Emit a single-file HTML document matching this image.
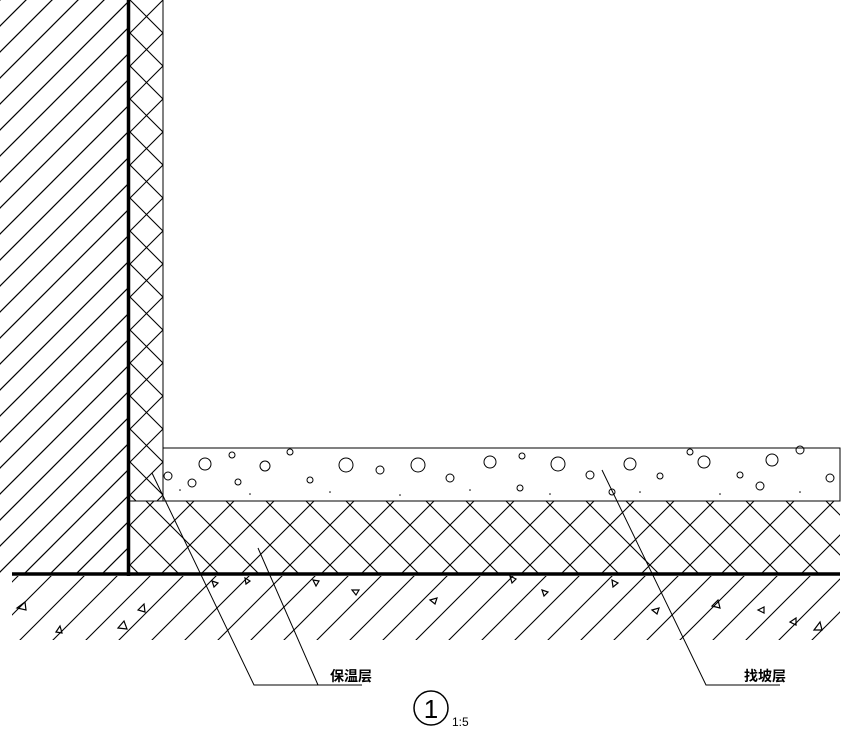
<!DOCTYPE html>
<html><head><meta charset="utf-8"><style>body{margin:0;background:#fff}</style></head><body>
<svg width="849" height="735" viewBox="0 0 849 735" xmlns="http://www.w3.org/2000/svg">
<defs>
<pattern id="wall" patternUnits="userSpaceOnUse" width="26" height="26">
<line x1="0" y1="26" x2="26" y2="0" stroke="#000" stroke-width="1.2"/>
<line x1="-2" y1="2" x2="2" y2="-2" stroke="#000" stroke-width="1.2"/>
<line x1="24" y1="28" x2="28" y2="24" stroke="#000" stroke-width="1.2"/>
</pattern>
<pattern id="xh" patternUnits="userSpaceOnUse" width="40" height="40" x="10" y="5">
<line x1="0" y1="0" x2="40" y2="40" stroke="#000" stroke-width="1.1"/>
<line x1="0" y1="40" x2="40" y2="0" stroke="#000" stroke-width="1.1"/>
</pattern>
<pattern id="xv" patternUnits="userSpaceOnUse" width="33" height="33" x="130" y="0">
<line x1="0" y1="0" x2="33" y2="33" stroke="#000" stroke-width="1.1"/>
<line x1="0" y1="33" x2="33" y2="0" stroke="#000" stroke-width="1.1"/>
</pattern>
<pattern id="gr" patternUnits="userSpaceOnUse" width="33" height="33">
<line x1="0" y1="33" x2="33" y2="0" stroke="#000" stroke-width="1.1"/>
<line x1="-2" y1="2" x2="2" y2="-2" stroke="#000" stroke-width="1.1"/>
<line x1="31" y1="35" x2="35" y2="31" stroke="#000" stroke-width="1.1"/>
</pattern>
</defs>
<rect x="0" y="0" width="128" height="574" fill="url(#wall)"/>
<rect x="130" y="0" width="33" height="501" fill="url(#xv)"/>
<rect x="130" y="501" width="710" height="72" fill="url(#xh)"/>
<rect x="163" y="448" width="677" height="53" fill="#fff" stroke="#000" stroke-width="1"/>
<line x1="130" y1="501" x2="840" y2="501" stroke="#000" stroke-width="1"/>
<line x1="163" y1="0" x2="163" y2="448" stroke="#000" stroke-width="1"/>
<rect x="12" y="576" width="828" height="64" fill="url(#gr)"/>
<g fill="none" stroke="#000" stroke-width="1">
<circle cx="205" cy="464" r="6"/><circle cx="232" cy="455" r="3"/><circle cx="265" cy="466" r="5"/><circle cx="290" cy="452" r="3"/><circle cx="346" cy="465" r="7"/><circle cx="380" cy="470" r="4"/><circle cx="418" cy="465" r="7"/><circle cx="450" cy="478" r="4"/><circle cx="490" cy="462" r="6"/><circle cx="522" cy="456" r="3"/><circle cx="558" cy="464" r="7"/><circle cx="590" cy="475" r="4"/><circle cx="630" cy="464" r="6"/><circle cx="660" cy="476" r="3"/><circle cx="704" cy="462" r="6"/><circle cx="740" cy="475" r="3"/><circle cx="772" cy="460" r="6"/><circle cx="800" cy="450" r="4"/><circle cx="830" cy="478" r="4"/><circle cx="168" cy="476" r="4"/><circle cx="192" cy="483" r="4"/><circle cx="238" cy="482" r="3"/><circle cx="310" cy="480" r="3"/><circle cx="520" cy="488" r="3"/><circle cx="612" cy="492" r="3"/><circle cx="760" cy="486" r="4"/><circle cx="690" cy="452" r="3"/>
</g>
<g fill="#000">
<circle cx="180" cy="490" r="0.8"/><circle cx="250" cy="494" r="0.8"/><circle cx="330" cy="492" r="0.8"/><circle cx="400" cy="495" r="0.8"/><circle cx="470" cy="490" r="0.8"/><circle cx="550" cy="494" r="0.8"/><circle cx="640" cy="492" r="0.8"/><circle cx="720" cy="494" r="0.8"/><circle cx="800" cy="492" r="0.8"/>
</g>
<g fill="none" stroke="#000" stroke-width="1.2">
<path d="M17 608 l8 -6 l1 8z"/><path d="M118 628 l6 -7 l3 8z"/><path d="M212 581 l6 2 l-4 4z"/><path d="M245 578 l5 3 l-4 3z"/><path d="M313 580 l6 1 l-3 5z"/><path d="M352 590 l7 0 l-3 5z"/><path d="M430 600 l7 -2 l-2 6z"/><path d="M510 576 l6 3 l-4 4z"/><path d="M542 590 l6 2 l-4 4z"/><path d="M612 580 l6 3 l-5 4z"/><path d="M652 610 l7 -2 l-2 6z"/><path d="M712 606 l6 -6 l2 8z"/><path d="M758 610 l6 -3 l0 6z"/><path d="M790 622 l6 -4 l0 7z"/><path d="M814 630 l6 -8 l2 8z"/><path d="M138 610 l6 -6 l1 8z"/><path d="M56 632 l4 -6 l2 7z"/>
</g>
<line x1="128.5" y1="0" x2="128.5" y2="576" stroke="#000" stroke-width="3.5"/>
<line x1="12" y1="574" x2="840" y2="574" stroke="#000" stroke-width="3.5"/>
<g fill="none" stroke="#000" stroke-width="1">
<polyline points="152,473 254,685 362,685"/>
<line x1="258" y1="548" x2="318" y2="685"/>
<polyline points="602,470 706,685 780,685"/>
</g>
<g font-family="'Liberation Sans','Noto Sans CJK SC',sans-serif" font-weight="bold" font-size="14">
<text x="330" y="681">保温层</text>
<text x="744" y="681">找坡层</text>
</g>
<circle cx="431" cy="708" r="17" fill="none" stroke="#000" stroke-width="1.5"/>
<text x="431" y="718" font-family="'Liberation Sans',sans-serif" font-size="26" text-anchor="middle">1</text>
<text x="452" y="726" font-family="'Liberation Sans',sans-serif" font-size="12">1:5</text>
</svg>
</body></html>
